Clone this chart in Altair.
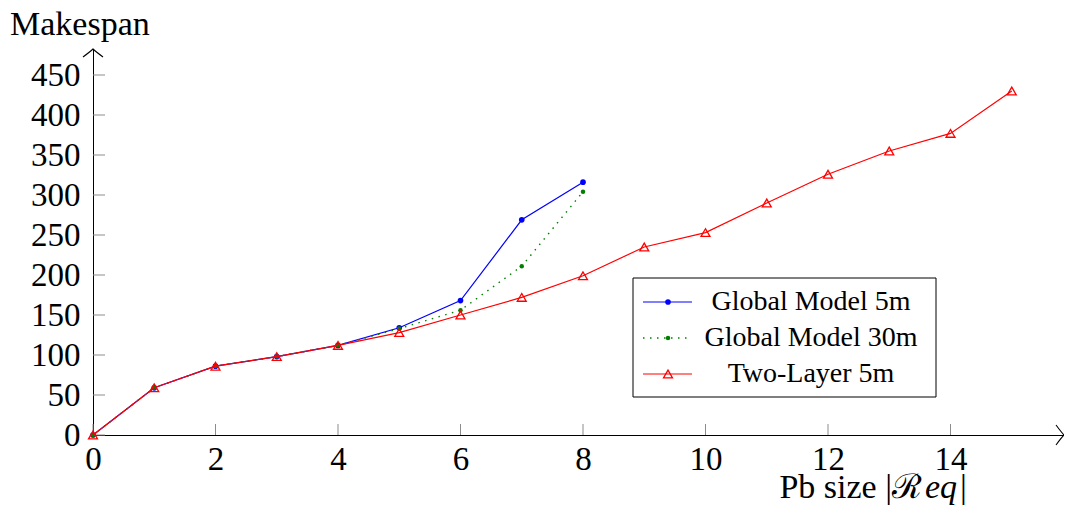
import altair as alt
import pandas as pd

# ---- data ----
x_global = [0, 1, 2, 3, 4, 5, 6, 7, 8]
global_5m = [0, 59, 86, 98, 112, 134, 168, 269, 316]
global_30m = [0, 59, 86, 98, 112, 133, 156, 211, 304]
x_two = [0, 1, 2, 3, 4, 5, 6, 7, 8, 9, 10, 11, 12, 13, 14, 15]
two_layer_5m = [0, 59, 86, 98, 112, 128, 150, 172, 199, 235, 253, 290, 326, 355, 377, 430]
x_ticks = [0, 2, 4, 6, 8, 10, 12, 14]
y_ticks = [0, 50, 100, 150, 200, 250, 300, 350, 400, 450]
series_names = ["Global Model 5m", "Global Model 30m", "Two-Layer 5m"]
x_title_parts = ["Pb size |ℛ", "eq", "|"]
y_title = "Makespan"

FONT = "Liberation Serif"
W, H = 971, 386
XMAX, YMAX = 15.853, 482.5
BLUE, GREEN, RED = "#0000ff", "#007f00", "#ff0000"

xs = alt.Scale(domain=[0, XMAX], nice=False, zero=False)
ys = alt.Scale(domain=[0, YMAX], nice=False, zero=False)

df_g5 = pd.DataFrame({"x": x_global, "y": global_5m})
df_g30 = pd.DataFrame({"x": x_global, "y": global_30m})
df_two = pd.DataFrame({"x": x_two, "y": two_layer_5m})
df_xt = pd.DataFrame({"x": x_ticks})
df_yt = pd.DataFrame({"y": y_ticks})
one = pd.DataFrame({"a": [0]})

x_axis = alt.Axis(values=x_ticks, title=None, grid=False, ticks=False, tickSize=0,
                  domainColor="black", domainWidth=1, labelFont=FONT, labelFontSize=33,
                  labelColor="black", labelPadding=8, labelFlush=False, labelOverlap=False,
                  format="d")
y_axis = alt.Axis(values=y_ticks, title=None, grid=False, ticks=False, tickSize=0,
                  domainColor="black", domainWidth=1, labelFont=FONT, labelFontSize=33,
                  labelColor="black", labelPadding=13, labelFlush=False, labelOverlap=False,
                  format="d")

X = alt.X("x:Q", scale=xs, axis=x_axis)
Y = alt.Y("y:Q", scale=ys, axis=y_axis)

# inward grey ticks
xtick = alt.Chart(df_xt).mark_rule(color="#8c8c8c", strokeWidth=1).encode(
    x=X, y=alt.value(H), y2=alt.value(H - 11))
ytick = alt.Chart(df_yt).mark_rule(color="#8c8c8c", strokeWidth=1).encode(
    y=Y, x=alt.value(0), x2=alt.value(12))

def enc(ch):
    return ch.encode(x=X, y=Y)

g5_line = enc(alt.Chart(df_g5).mark_line(color=BLUE, strokeWidth=1.2))
g5_pts = enc(alt.Chart(df_g5).mark_point(filled=True, color=BLUE, size=32, opacity=1))
g30_line = enc(alt.Chart(df_g30).mark_line(color=GREEN, strokeWidth=1.4, strokeDash=[1.5, 5.5]))
g30_pts = enc(alt.Chart(df_g30).mark_point(filled=True, color=GREEN, size=20, opacity=1))
two_line = enc(alt.Chart(df_two).mark_line(color=RED, strokeWidth=1.2))
two_pts = enc(alt.Chart(df_two).mark_point(shape="triangle-up", filled=False, color=RED,
                                          size=80, strokeWidth=1.3, opacity=1))

# axis arrows
xarrow = alt.Chart(one).mark_point(shape="M-0.8,-1Q-0.2,-0.2 0,0Q-0.2,0.2 -0.8,1",
                                  filled=False, color="black", size=400, strokeWidth=1.1,
                                  opacity=1).encode(x=alt.value(W), y=alt.value(H))
yarrow = alt.Chart(one).mark_point(shape="M-1,0.8Q-0.2,0.2 0,0Q0.2,0.2 1,0.8",
                                  filled=False, color="black", size=400, strokeWidth=1.1,
                                  opacity=1).encode(x=alt.value(0), y=alt.value(0))

# titles
ytitle = alt.Chart(one).mark_text(text=y_title, font=FONT, fontSize=34, align="left",
                                  baseline="alphabetic", color="black").encode(
    x=alt.value(-83), y=alt.value(-14))
xt1 = alt.Chart(one).mark_text(text=x_title_parts[0], font=FONT, fontSize=34, align="right",
                               baseline="alphabetic", color="black").encode(
    x=alt.value(829), y=alt.value(449))
xt2 = alt.Chart(one).mark_text(text=x_title_parts[1], font=FONT, fontSize=34, align="left",
                               fontStyle="italic", baseline="alphabetic", color="black").encode(
    x=alt.value(832), y=alt.value(449))
xt3 = alt.Chart(one).mark_text(text=x_title_parts[2], font=FONT, fontSize=34, align="left",
                               baseline="alphabetic", color="black").encode(
    x=alt.value(867), y=alt.value(449))

# legend
LX0, LX1, LY0, LY1 = 540, 843, 229, 348
rows = [253, 289, 325]
lg = [alt.Chart(one).mark_rect(fill="white", stroke="black", strokeWidth=1).encode(
    x=alt.value(LX0), x2=alt.value(LX1), y=alt.value(LY0), y2=alt.value(LY1))]
styles = [
    dict(color=BLUE, strokeWidth=1.2),
    dict(color=GREEN, strokeWidth=1.4, strokeDash=[1.5, 5.5]),
    dict(color=RED, strokeWidth=1.2),
]
markers = [
    dict(filled=True, color=BLUE, size=32, opacity=1),
    dict(filled=True, color=GREEN, size=20, opacity=1),
    dict(shape="triangle-up", filled=False, color=RED, size=80, strokeWidth=1.3, opacity=1),
]
for name, ry, st, mk in zip(series_names, rows, styles, markers):
    lg.append(alt.Chart(one).mark_rule(**st).encode(
        x=alt.value(550), x2=alt.value(599), y=alt.value(ry)))
    lg.append(alt.Chart(one).mark_point(**mk).encode(x=alt.value(575), y=alt.value(ry)))
    lg.append(alt.Chart(one).mark_text(text=name, font=FONT, fontSize=28, align="center",
                                       baseline="alphabetic", color="black").encode(
        x=alt.value(718), y=alt.value(ry + 8)))

chart = alt.layer(
    xtick, ytick, g5_line, g5_pts, g30_line, g30_pts, two_line, two_pts,
    xarrow, yarrow, ytitle, xt1, xt2, xt3, *lg
).resolve_scale(x="shared", y="shared").properties(
    width=W, height=H,
    autosize=alt.AutoSizeParams(type="none"),
    padding={"left": 85, "top": 41, "right": 0, "bottom": 71},
).configure_view(stroke=None)

chart.save("out.html", embed_options={"renderer": "svg", "actions": False})
